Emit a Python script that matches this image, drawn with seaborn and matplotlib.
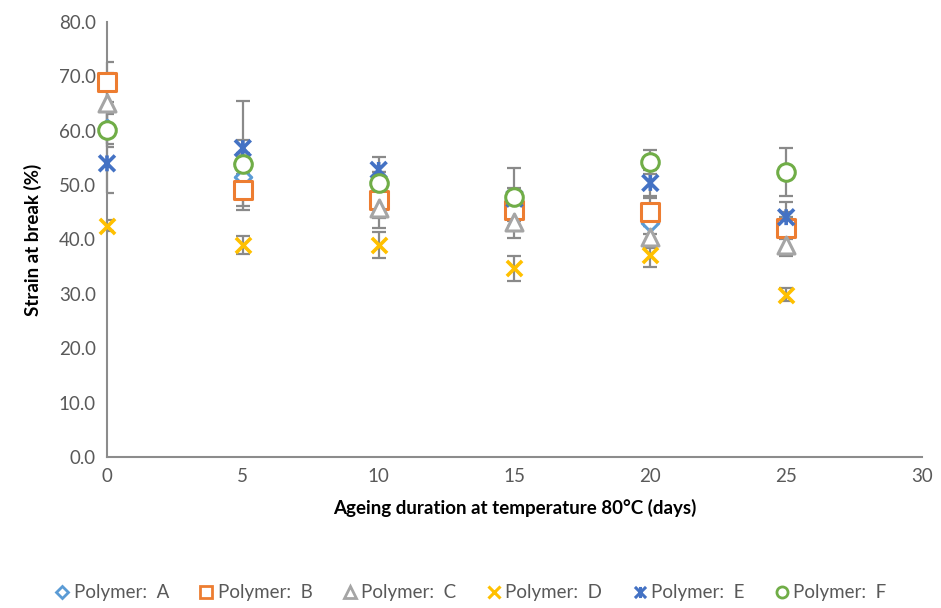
import numpy as np
import pandas as pd
import matplotlib
matplotlib.use("Agg")
import matplotlib.pyplot as plt
import seaborn as sns
from matplotlib.path import Path
from matplotlib.lines import Line2D

days = [0, 5, 10, 15, 20, 25]
series_names = ["Polymer:  A", "Polymer:  B", "Polymer:  C", "Polymer:  D", "Polymer:  E", "Polymer:  F"]
poly_a = [60.5, 51.5, 50.5, 45.5, 43.0, 43.0]
poly_b = [68.9, 49.1, 47.2, 45.4, 45.0, 42.1]
poly_c = [65.1, 55.5, 45.8, 43.2, 40.4, 39.0]
poly_d = [42.5, 39.0, 39.0, 34.7, 37.1, 29.8]
poly_e = [54.0, 56.8, 52.8, 47.5, 50.4, 44.1]
poly_f = [60.1, 53.9, 50.4, 47.8, 54.2, 52.4]
err_a = [3.0, 1.5, 2.0, 2.0, 2.0, 2.0]
err_b = [3.7, 3.0, 3.3, 2.0, 2.6, 2.0]
err_c = [5.5, 10.0, 3.7, 2.9, 2.0, 2.0]
err_d = [1.0, 1.7, 2.4, 2.3, 2.2, 1.2]
err_e = [5.5, 1.5, 2.3, 2.0, 2.4, 2.8]
err_f = [3.0, 2.0, 2.0, 5.3, 2.2, 4.4]

values = [poly_a, poly_b, poly_c, poly_d, poly_e, poly_f]
errors = [err_a, err_b, err_c, err_d, err_e, err_f]

rows = []
for name, vals, errs in zip(series_names, values, errors):
    for d, v, e in zip(days, vals, errs):
        rows.append({"days": d, "strain": v, "err": e, "series": name})
df = pd.DataFrame(rows)

star = Path([(-1, -1), (1, 1), (-1, 1), (1, -1), (0, -1.0), (0, 1.0)],
            [Path.MOVETO, Path.LINETO, Path.MOVETO, Path.LINETO, Path.MOVETO, Path.LINETO])

styles = {
    "Polymer:  A": dict(marker="D", color="#5b9bd5", kind="open", size=70),
    "Polymer:  B": dict(marker="s", color="#ed7d31", kind="open", size=150),
    "Polymer:  C": dict(marker="^", color="#a5a5a5", kind="open", size=150),
    "Polymer:  D": dict(marker="x", color="#ffc000", kind="line", size=120),
    "Polymer:  E": dict(marker=star, color="#4472c4", kind="path", size=130),
    "Polymer:  F": dict(marker="o", color="#70ad47", kind="open", size=160),
}

sns.set_theme(style="white")
plt.rcParams["font.family"] = ["Lato", "DejaVu Sans"]

fig = plt.figure(figsize=(9.41, 6.08), dpi=100)
ax = fig.add_axes([0.1137, 0.2484, 0.8661, 0.7154])

# error bars first
for name in series_names:
    sub = df[df["series"] == name]
    ax.errorbar(sub["days"], sub["strain"], yerr=sub["err"], fmt="none",
                ecolor="#8a8a8a", elinewidth=1.6, capsize=5, capthick=1.6, zorder=2)

for name in series_names:
    sub = df[df["series"] == name]
    st = styles[name]
    if st["kind"] == "open":
        sns.scatterplot(data=sub, x="days", y="strain", marker=st["marker"], s=st["size"],
                        facecolor="white", edgecolor=st["color"], linewidth=2.2, ax=ax,
                        zorder=3, legend=False)
    elif st["kind"] == "line":
        sns.scatterplot(data=sub, x="days", y="strain", marker=st["marker"], s=st["size"],
                        color=st["color"], linewidth=2.6, ax=ax, zorder=3, legend=False)
    else:
        sns.scatterplot(data=sub, x="days", y="strain", marker=st["marker"], s=st["size"],
                        facecolor="none", edgecolor=st["color"],
                        linewidth=2.6, ax=ax, zorder=3, legend=False)

ax.set_xlim(0, 30)
ax.set_ylim(0, 80)
ax.set_xticks([0, 5, 10, 15, 20, 25, 30])
ax.set_yticks(np.arange(0, 81, 10))
ax.set_yticklabels([f"{v:.1f}" for v in np.arange(0, 81, 10)])
ax.tick_params(axis="both", length=0, labelsize=13.5, colors="#595959", pad=8)
for s in ["top", "right"]:
    ax.spines[s].set_visible(False)
for s in ["left", "bottom"]:
    ax.spines[s].set_color("#8c8c8c")
    ax.spines[s].set_linewidth(1.5)
for coll in ax.collections:
    coll.set_clip_on(False)

ax.set_xlabel("Ageing duration at temperature 80°C (days)", fontsize=13.5, fontweight="bold",
              color="black", labelpad=10)
ax.set_ylabel("Strain at break (%)", fontsize=13.5, fontweight="bold", color="black", labelpad=12)

handles = []
for name in series_names:
    st = styles[name]
    ms = 8 if st["marker"] != "D" else 6
    if st["kind"] == "open":
        h = Line2D([], [], linestyle="none", marker=st["marker"], markersize=ms,
                   markerfacecolor="white", markeredgecolor=st["color"], markeredgewidth=2.0)
    else:
        h = Line2D([], [], linestyle="none", marker=st["marker"], markersize=ms,
                   markerfacecolor="none", markeredgecolor=st["color"], markeredgewidth=2.2)
    handles.append(h)
leg = fig.legend(handles, series_names, loc="center", bbox_to_anchor=(0.5, 0.025), ncol=6,
                 frameon=False, fontsize=13.5, handletextpad=0.2, columnspacing=1.6,
                 handlelength=0.8)
for t in leg.get_texts():
    t.set_color("#595959")

fig.savefig("out.png", dpi=100)
